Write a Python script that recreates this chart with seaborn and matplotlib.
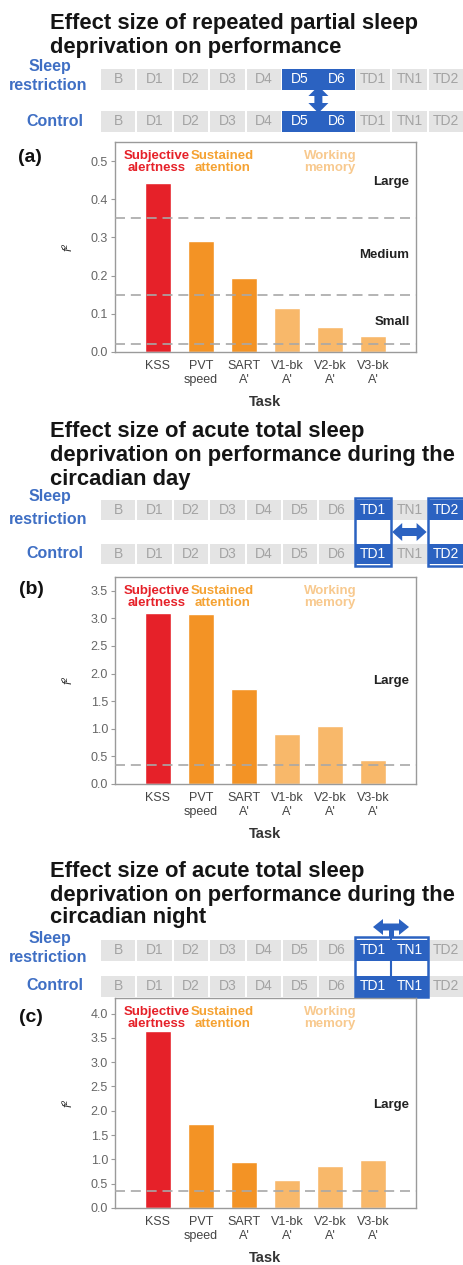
import matplotlib
matplotlib.use('Agg')
import matplotlib.pyplot as plt
from matplotlib.patches import Rectangle, Polygon
import seaborn as sns
import numpy as np

# ── Data ────────────────────────────────────────────────────────────────────
TASKS = ['KSS', 'PVT\nspeed', "SART\nA'", "V1-bk\nA'", "V2-bk\nA'", "V3-bk\nA'"]
F2_PARTIAL = [0.442, 0.292, 0.193, 0.116, 0.066, 0.042]
F2_DAY = [3.09, 3.08, 1.73, 0.90, 1.05, 0.43]
F2_NIGHT = [3.65, 1.73, 0.94, 0.58, 0.86, 0.98]

THRESH_PARTIAL = [0.02, 0.15, 0.35]
THRESH_ACUTE = [0.35]

EFFECT_LABELS_PARTIAL = ['Large', 'Medium', 'Small']
EFFECT_Y_PARTIAL = [0.445, 0.253, 0.079]

GROUP_LABELS = ['Subjective\nalertness', 'Sustained\nattention', 'Working\nmemory']
DAYS = ['B', 'D1', 'D2', 'D3', 'D4', 'D5', 'D6', 'TD1', 'TN1', 'TD2']

TITLES = [
    ['Effect size of repeated partial sleep', 'deprivation on performance'],
    ['Effect size of acute total sleep', 'deprivation on performance during the', 'circadian day'],
    ['Effect size of acute total sleep', 'deprivation on performance during the', 'circadian night'],
]

# ── Style ───────────────────────────────────────────────────────────────────
RED = '#e62129'
ORANGE = '#f39325'
LIGHT = '#f8b86a'
BAR_COLORS = [RED, ORANGE, ORANGE, LIGHT, LIGHT, LIGHT]
GROUP_COLORS = [RED, '#f5a232', '#f8c98e']
BLUE = '#2b62c1'
CELL_GRAY = '#e4e4e4'
CELL_TEXT = '#a3a3a3'
SPINE = '#9a9a9a'

W, H = 464, 1265
X0, CW = 100, 36.4

sns.set_style('white')
plt.rcParams['font.family'] = ['Liberation Sans', 'DejaVu Sans']

fig = plt.figure(figsize=(W / 100, H / 100), dpi=100)
bg = fig.add_axes([0, 0, 1, 1])
bg.set_xlim(0, W)
bg.set_ylim(H, 0)
bg.axis('off')


def px_axes(x0, y0, x1, y1):
    return fig.add_axes([x0 / W, 1 - y1 / H, (x1 - x0) / W, (y1 - y0) / H])


def draw_row(yc, hi, h=21):
    for i, d in enumerate(DAYS):
        x = X0 + i * CW
        if i in hi:
            bg.add_patch(Rectangle((x, yc - h / 2), CW, h, color=BLUE, lw=0))
            col = 'white'
        else:
            bg.add_patch(Rectangle((x + 1, yc - h / 2), CW - 2, h, color=CELL_GRAY, lw=0))
            col = CELL_TEXT
        bg.text(x + CW / 2, yc, d, ha='center', va='center', fontsize=10, color=col)


def group_labels(y_names):
    y_sleep, y_restr, y_ctrl = y_names
    kw = dict(ha='center', va='center', fontsize=11.5, fontweight='bold', color='#3f6fc4')
    bg.text(50, y_sleep, 'Sleep', **kw)
    bg.text(48, y_restr, 'restriction', **kw)
    bg.text(55, y_ctrl, 'Control', **kw)


def dbl_arrow(a0, a1, c, hl=9, hw=8, sw=3.5, vertical=False):
    # fat double-headed arrow along one axis, from a0 to a1, centred on c
    pts = [(a0, c), (a0 + hl, c - hw), (a0 + hl, c - sw), (a1 - hl, c - sw), (a1 - hl, c - hw),
           (a1, c), (a1 - hl, c + hw), (a1 - hl, c + sw), (a0 + hl, c + sw), (a0 + hl, c + hw)]
    if vertical:
        pts = [(q, p) for p, q in pts]
    bg.add_patch(Polygon(pts, closed=True, color=BLUE, lw=0))


def bar_panel(rect, vals, ylim, yticks, thresholds, eff_labels, eff_y, label_pos):
    ax = px_axes(*rect)
    sns.barplot(x=TASKS, y=vals, hue=TASKS, palette=BAR_COLORS, legend=False,
                saturation=1, width=0.62, ax=ax, zorder=2)
    ax.set_xlim(-1, 6)
    ax.set_ylim(*ylim)
    ax.set_yticks(yticks)
    ax.set_yticklabels([f'{t:.1f}' for t in yticks])
    for t in thresholds:
        ax.axhline(t, color='#a8a8a8', lw=1.2, ls=(0, (6, 3.5)), zorder=3)
    for lab, y in zip(eff_labels, eff_y):
        ax.text(5.85, y, lab, ha='right', va='center', fontsize=9.5, fontweight='bold', color='#222222')
    for lab, x, c in zip(GROUP_LABELS, [-0.03, 1.5, 4.0], GROUP_COLORS):
        ax.text(x, 0.905, lab, transform=ax.get_xaxis_transform(), ha='center', va='center',
                fontsize=9.5, fontweight='bold', color=c, linespacing=1.0)
    for s in ax.spines.values():
        s.set_visible(True)
        s.set_color(SPINE)
        s.set_linewidth(1.0)
    ax.tick_params(axis='y', length=3, color=SPINE, labelsize=9, labelcolor='#666666', pad=2, left=True)
    ax.tick_params(axis='x', length=0, labelsize=9, labelcolor='#444444', pad=6)
    ax.set_ylabel('f²', style='italic', fontsize=9, color='#333333')
    h = rect[3] - rect[1]
    ax.yaxis.set_label_coords(-(rect[0] - 75) / (rect[2] - rect[0]), 0.5)
    ax.set_xlabel('Task', fontweight='bold', fontsize=10.5, color='#333333')
    ax.xaxis.set_label_coords(0.5, -50 / h)
    ax.xaxis.label.set_va('center')
    bg.text(label_pos[0], label_pos[1], label_pos[2], ha='center', va='center',
            fontsize=14, fontweight='bold', color='#111111')
    return ax


def title(lines, ys):
    for line, y in zip(lines, ys):
        bg.text(50, y, line, ha='left', va='center', fontsize=15.8, fontweight='bold', color='#151515')


# ── Panel (a) ───────────────────────────────────────────────────────────────
title(TITLES[0], [23, 47])
group_labels([66, 85, 121])
draw_row(79, [5, 6])
draw_row(121, [5, 6])
dbl_arrow(86, 113, X0 + 6 * CW, hl=10, hw=10, sw=4, vertical=True)
bar_panel((115, 142, 416, 352), F2_PARTIAL, (0, 0.55), np.arange(0, 0.51, 0.1),
          THRESH_PARTIAL, EFFECT_LABELS_PARTIAL, EFFECT_Y_PARTIAL, (30, 157, '(a)'))

# ── Panel (b) ───────────────────────────────────────────────────────────────
title(TITLES[1], [431, 455, 479])
group_labels([496, 519, 553])
draw_row(510, [7, 9], h=20)
draw_row(554, [7, 9], h=20)
for i in [7, 9]:
    bg.add_patch(Rectangle((X0 + i * CW, 498), CW, 68, fill=False, ec=BLUE, lw=1.8))
dbl_arrow(X0 + 8 * CW + 1, X0 + 9 * CW - 1, 532, hl=10, hw=9, sw=4)
bar_panel((115, 577, 416, 784), F2_DAY, (0, 3.75), np.arange(0, 3.51, 0.5),
          THRESH_ACUTE, ['Large'], [1.87], (31, 590, '(b)'))

# ── Panel (c) ───────────────────────────────────────────────────────────────
title(TITLES[2], [872, 895, 918])
group_labels([938, 958, 985])
draw_row(950, [7, 8])
draw_row(986, [7, 8])
bg.add_patch(Rectangle((X0 + 7 * CW, 937), 2 * CW, 60, fill=False, ec=BLUE, lw=1.8))
bg.plot([X0 + 8 * CW] * 2, [937, 997], color=BLUE, lw=1.5)
bg.add_patch(Rectangle((X0 + 8 * CW - 2.5, 927), 5, 10, color=BLUE, lw=0))
dbl_arrow(373, 409, 927, hl=10, hw=8, sw=3.5)
bar_panel((115, 998, 416, 1208), F2_NIGHT, (0, 4.32), np.arange(0, 4.01, 0.5),
          THRESH_ACUTE, ['Large'], [2.11], (31, 1017, '(c)'))

fig.savefig('out.png', dpi=100, facecolor='white')
